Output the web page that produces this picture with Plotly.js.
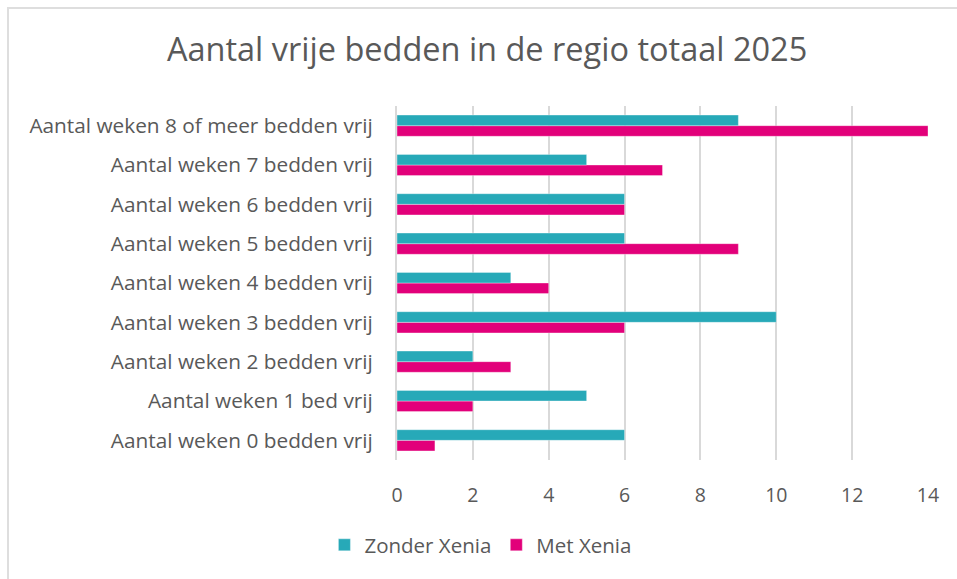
<!DOCTYPE html>
<html>
<head>
<meta charset="utf-8">
<script src="https://cdn.plot.ly/plotly-3.0.1.min.js"></script>
<style>
html,body{margin:0;padding:0;background:#fff;overflow:hidden;}
#wrap{position:relative;width:957px;height:579px;}
#chart{position:absolute;left:0;top:0;width:957px;height:579px;}
#frame{position:absolute;left:7px;top:7px;width:980px;height:600px;border-left:2px solid #dedede;border-top:2px solid #dedede;pointer-events:none;}
</style>
</head>
<body>
<div id="wrap"><div id="chart"></div><div id="frame"></div></div>
<script>
const categories = [
  "Aantal weken 0 bedden vrij",
  "Aantal weken 1 bed vrij",
  "Aantal weken 2 bedden vrij",
  "Aantal weken 3 bedden vrij",
  "Aantal weken 4 bedden vrij",
  "Aantal weken 5 bedden vrij",
  "Aantal weken 6 bedden vrij",
  "Aantal weken 7 bedden vrij",
  "Aantal weken 8 of meer bedden vrij"
];
const zonderXenia = [6, 5, 2, 10, 3, 6, 6, 5, 9];
const metXenia = [1, 2, 3, 6, 4, 9, 6, 7, 14];
const xTicks = [0, 2, 4, 6, 8, 10, 12, 14];

const font = "Open Sans, sans-serif";
const txt = "#595959";

const traces = [
  {
    type: "bar", orientation: "h", name: "Met Xenia",
    y: categories, x: metXenia,
    marker: {color: "#E2007A", line: {color: "rgba(255,255,255,0.35)", width: 1}},
    hoverinfo: "x+y"
  },
  {
    type: "bar", orientation: "h", name: "Zonder Xenia",
    y: categories, x: zonderXenia,
    marker: {color: "#27A9B8", line: {color: "rgba(255,255,255,0.35)", width: 1}},
    hoverinfo: "x+y"
  }
];

const layout = {
  width: 957, height: 579,
  margin: {l: 397, r: 29, t: 106, b: 119, pad: 0},
  paper_bgcolor: "#fff", plot_bgcolor: "#fff",
  font: {family: font, color: txt, size: 18},
  title: {
    text: "Aantal vrije bedden in de regio totaal 2025",
    font: {family: font, size: 32.5, color: txt},
    xref: "container", x: 0.509, xanchor: "center",
    yref: "container", y: 1 - 50/579, yanchor: "middle"
  },
  barmode: "group",
  bargap: 0.46, bargroupgap: 0,
  xaxis: {
    range: [0, 14], tickvals: xTicks, ticktext: xTicks.map(String),
    showgrid: true, gridcolor: "#d9d9d9", gridwidth: 2,
    zeroline: false, showline: false, ticks: "",
    ticklabelstandoff: 21,
    tickfont: {family: font, size: 19.5, color: txt},
    fixedrange: true
  },
  yaxis: {
    type: "category", categoryorder: "array", categoryarray: categories,
    showgrid: false, zeroline: false,
    showline: true, linecolor: "#d9d9d9", linewidth: 2,
    ticks: "", ticklabelstandoff: 18,
    tickfont: {family: font, size: 20.8, color: txt},
    fixedrange: true
  },
  showlegend: true,
  legend: {
    orientation: "h", traceorder: "reversed",
    xref: "container", x: 0.502, xanchor: "center",
    yref: "container", y: 1 - 545/579, yanchor: "middle",
    font: {family: font, size: 20.5, color: txt},
    itemwidth: 30
  }
};

Plotly.newPlot("chart", traces, layout, {displayModeBar: false, staticPlot: true});
</script>
</body>
</html>
